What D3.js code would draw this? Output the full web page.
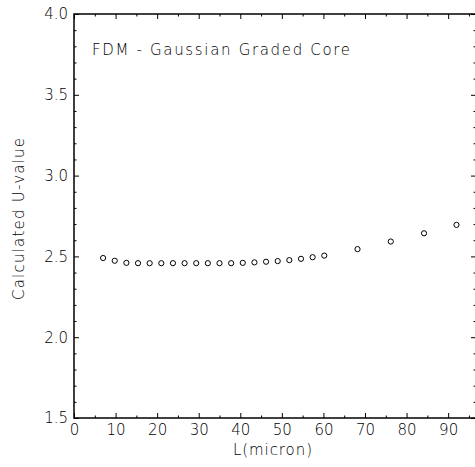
<!DOCTYPE html>
<html>
<head>
<meta charset="utf-8">
<script src="https://cdn.jsdelivr.net/npm/d3@7"></script>
<style>
  body { margin: 0; background: #fff; }
  text { font-family: "DejaVu Sans", sans-serif; font-weight: 200; fill: #000; }
</style>
</head>
<body>
<div id="container"></div>
<script>
// values
const lengths = [7.0, 9.8, 12.6, 15.4, 18.2, 21.0, 23.8, 26.6, 29.4, 32.2, 35.0, 37.8,
                 40.6, 43.4, 46.2, 49.0, 51.8, 54.6, 57.4, 60.2, 68.2, 76.2, 84.2, 92.0];
const uValues = [2.490, 2.473, 2.460, 2.458, 2.458, 2.458, 2.458, 2.458, 2.458, 2.458, 2.458, 2.458,
                 2.460, 2.463, 2.467, 2.471, 2.477, 2.485, 2.495, 2.505, 2.545, 2.592, 2.643, 2.695];
const xMajor = [0, 10, 20, 30, 40, 50, 60, 70, 80, 90];
const xMinor = [5, 15, 25, 35, 45, 55, 65, 75, 85, 95];
const yMajor = [1.5, 2.0, 2.5, 3.0, 3.5, 4.0];
const yMinor = d3.range(16, 40).filter(v => v % 5 !== 0).map(v => v / 10);
const title = 'FDM - Gaussian Graded Core';
const xTitle = 'L(micron)';
const yTitle = 'Calculated U-value';

const svgWidth = 475;
const svgHeight = 467;
const plotLeft = 74, plotTop = 14, plotRight = 476, plotBottom = 418;

const xScale = d3.scaleLinear().domain([0, 96.7]).range([plotLeft, plotRight]);
const yScale = d3.scaleLinear().domain([1.5, 4.0]).range([plotBottom, plotTop]);

const svg = d3.select('#container')
  .append('svg')
  .attr('width', svgWidth)
  .attr('height', svgHeight);

// ticks (all pointing inward)
function styleAxis(g) {
  g.select('.domain').remove();
  g.selectAll('line').attr('stroke', '#000').attr('stroke-width', 1);
  g.selectAll('text').style('font-size', '15px').attr('fill', '#000');
}

svg.append('g')
  .attr('transform', `translate(0,${plotBottom})`)
  .call(d3.axisBottom(xScale).tickValues(xMajor).tickSize(-5).tickPadding(6)
    .tickFormat(d3.format('d')))
  .call(styleAxis);
svg.append('g')
  .attr('transform', `translate(0,${plotBottom})`)
  .call(d3.axisBottom(xScale).tickValues(xMinor).tickSize(-2.5).tickFormat(''))
  .call(styleAxis);
svg.append('g')
  .attr('transform', `translate(0,${plotTop})`)
  .call(d3.axisTop(xScale).tickValues(xMajor).tickSize(-5).tickFormat(''))
  .call(styleAxis);
svg.append('g')
  .attr('transform', `translate(0,${plotTop})`)
  .call(d3.axisTop(xScale).tickValues(xMinor).tickSize(-2.5).tickFormat(''))
  .call(styleAxis);

svg.append('g')
  .attr('transform', `translate(${plotLeft},0)`)
  .call(d3.axisLeft(yScale).tickValues(yMajor).tickSize(-5).tickPadding(6)
    .tickFormat(d3.format('.1f')))
  .call(styleAxis);
svg.append('g')
  .attr('transform', `translate(${plotLeft},0)`)
  .call(d3.axisLeft(yScale).tickValues(yMinor).tickSize(-2.5).tickFormat(''))
  .call(styleAxis);
svg.append('g')
  .attr('transform', `translate(${plotRight},0)`)
  .call(d3.axisRight(yScale).tickValues(yMajor).tickSize(-5).tickFormat(''))
  .call(styleAxis);
svg.append('g')
  .attr('transform', `translate(${plotRight},0)`)
  .call(d3.axisRight(yScale).tickValues(yMinor).tickSize(-2.5).tickFormat(''))
  .call(styleAxis);

// frame
svg.append('rect')
  .attr('x', plotLeft).attr('y', plotTop)
  .attr('width', plotRight - plotLeft).attr('height', plotBottom - plotTop)
  .attr('fill', 'none')
  .attr('stroke', '#000')
  .attr('stroke-width', 1.5);

// points
svg.selectAll('circle')
  .data(lengths)
  .enter()
  .append('circle')
  .attr('cx', d => xScale(d))
  .attr('cy', (d, i) => yScale(uValues[i]))
  .attr('r', 2.6)
  .attr('fill', 'none')
  .attr('stroke', '#000')
  .attr('stroke-width', 1);

// labels
svg.append('text')
  .attr('x', 92).attr('y', 55)
  .attr('textLength', 258)
  .style('font-size', '15px')
  .text(title);

svg.append('text')
  .attr('x', 233).attr('y', 455)
  .attr('textLength', 79)
  .style('font-size', '15px')
  .text(xTitle);

svg.append('text')
  .attr('transform', 'translate(24,300) rotate(-90)')
  .attr('textLength', 162)
  .style('font-size', '15px')
  .text(yTitle);
</script>
</body>
</html>
